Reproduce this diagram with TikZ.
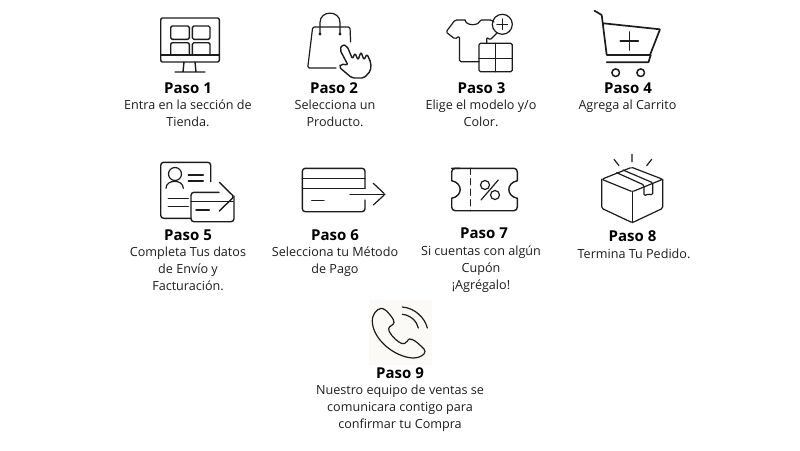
\documentclass[tikz,border=0pt]{standalone}
\usepackage{fontspec}
\setmainfont{Open Sans}
\usepackage{xcolor}
\definecolor{inkblack}{HTML}{1C1C1C}
\definecolor{phonecream}{HTML}{FBFAF6}
\begin{document}
\begin{tikzpicture}[
  x=1pt, y=-1pt,
  title/.style = {inner sep=0pt, text=black, font=\fontsize{15}{17}\selectfont\bfseries},
  desc/.style  = {inner sep=0pt, anchor=north, align=center, text=inkblack,
                  font=\fontsize{12.6}{17.4}\selectfont},
  icon/.style  = {draw=inkblack, line width=1.4pt, rounded corners=1.5pt, line cap=round, line join=round},
  thin icon/.style = {icon, line width=1.2pt},
]
\useasboundingbox (0,0) rectangle (800,450);

% Row 1: monitor
\draw[icon] (160.7,18) rectangle (219.3,62);
\draw[icon] (160.7,55) -- (219.3,55);
\draw[icon] (170.7,26) rectangle (189.3,39.3);
\draw[icon] (192.3,26) rectangle (210,39.3);
\draw[icon] (170.7,55) -- (170.7,42.7) -- (189.3,42.7) -- (189.3,55);
\draw[icon] (192.3,55) -- (192.3,42.7) -- (210,42.7) -- (210,55);
\draw[icon] (184,62) -- (183,72) (195,62) -- (196,72) (175,72) -- (205,72);

% Row 1: bag and hand
\draw[thin icon] (320,33) -- (320,24) .. controls (320,10) and (340,10) .. (340,24) -- (340,33);
\fill[inkblack] (320,34) circle (1.6) (340,34) circle (1.6);
\draw[thin icon] (350.6,42) -- (350,27) -- (312.7,27) -- (307.7,68) -- (336,68);
\draw[icon, rounded corners=2pt] (339,67) -- (341,64) -- (348,65) -- (340,50) -- (342,44.5) -- (347,46)
  -- (352.5,59) -- (355,53) -- (358,60) -- (361,52) -- (364,60) -- (367,54) -- (371,63)
  -- (370.5,71) -- (364,78) -- (352,78) -- cycle;

% Row 1: shirt
\draw[thin icon] (465,20) .. controls (466,26) and (478,26) .. (480,20) -- (492,20) -- (494,22);
\draw[thin icon] (465,20) -- (455,20) -- (446,32) -- (455,39) -- (459.5,36) -- (459.5,61.7) -- (479,61.7);
\draw[thin icon] (497,33) -- (490,40) -- (486.7,37) -- (486.7,43);
\draw[thin icon] (502.3,24.3) circle (10);
\draw[thin icon] (502.3,19) -- (502.3,29.6) (497,24.3) -- (507.6,24.3);
\draw[thin icon] (479,43.3) rectangle (512.3,71.7);
\draw[thin icon] (495.7,43.3) -- (495.7,71.7) (479,58.3) -- (512.3,58.3);

% Row 1: cart
\draw[icon, line width=1.7pt, rounded corners=0.5pt] (594.5,10.7) -- (601.7,15) -- (606.7,55) -- (650,55) -- (660,29.3) -- (603.3,23.3);
\draw[icon, line width=1.7pt, rounded corners=0.5pt] (606.7,62.3) -- (648.5,62.3) -- (650.7,55);
\draw[icon, line width=1.5pt] (615.7,72.7) circle (3.8) (640.7,72.7) circle (3.8);
\draw[icon, line width=1.6pt] (629.3,32) -- (629.3,50) (620.3,41) -- (638.3,41);

% Row 2: form and card
\draw[icon, rounded corners=3pt] (210.7,181.7) -- (210.7,162.3) -- (160.7,162.3) -- (160.7,218.3) -- (191,218.3);
\draw[thin icon] (175,174) circle (6.5);
\draw[thin icon] (166,188.3) .. controls (166,179) and (183.3,179) .. (183.3,188.3);
\draw[icon] (188.3,175) -- (203.3,175) (188.3,181) -- (203.3,181);
\draw[icon] (168.3,198.3) -- (188.3,198.3) (168.3,206.7) -- (188.3,206.7);
\draw[icon, rounded corners=3pt] (219,192.3) -- (191,192.3) -- (191,221.7) -- (234,221.7) -- (234,196);
\draw[icon] (191,201.7) -- (233,201.7) (196,210) -- (209.3,210);
\draw[icon] (219.3,182.3) -- (234,196.7) -- (219.3,211);

% Row 2: payment card
\draw[icon, rounded corners=3pt] (365,188.3) -- (365,168.3) -- (302.3,168.3) -- (302.3,211.7) -- (365,211.7) -- (365,200);
\draw[icon] (302.3,178.3) -- (365,178.3) (302.3,188.3) -- (365,188.3);
\draw[icon] (311.7,200.7) -- (324,200.7);
\draw[thin icon] (350,194.3) -- (385,194.3);
\draw[thin icon] (373.3,183.3) -- (385,194.3) -- (373.3,205);

% Row 2: ticket
\draw[icon, rounded corners=3.5pt] (451.7,168.3) -- (517.3,168.3) -- (517.3,180.7);
\draw[icon, rounded corners=3.5pt] (517.3,198.3) -- (517.3,210.7) -- (451.7,210.7) -- (451.7,198.3);
\draw[icon, rounded corners=3.5pt] (451.7,180.7) -- (451.7,168.3) -- (460,168.3);
\draw[icon] (517.3,180.7) .. controls (506,183) and (506,196) .. (517.3,198.3);
\draw[icon] (451.7,198.3) .. controls (463,196) and (463,183) .. (451.7,180.7);
\draw[icon, dash pattern=on 6pt off 4.5pt] (470.7,168.3) -- (470.7,210.7);
\draw[thin icon] (485,185) circle (4.5) (495,195) circle (4.5);
\draw[thin icon] (498.3,180) -- (481,200);

% Row 2: box
\draw[thin icon] (601.7,179.3) -- (631.7,167.3) -- (662.7,179.3) -- (632.3,191.7) -- cycle;
\draw[thin icon] (601.7,179.3) -- (601.7,208.3) -- (632.3,222.7) -- (662.7,208.3) -- (662.7,179.3);
\draw[thin icon] (632.3,191.7) -- (632.3,222.7);
\draw[thin icon] (616.7,172.7) -- (644,185) -- (644,196) -- (648,194) -- (652.7,195) -- (652.7,182.7) -- (623,170);
\draw[thin icon] (614,159.3) -- (619,165.7) (632,154.3) -- (632,161.7) (651.7,159.3) -- (646.7,165.7);

% Row 3: phone
\fill[phonecream] (369,300) rectangle (432,365);
\draw[thin icon] (372.5,318) .. controls (375,309) and (381,308) .. (384,309) .. controls (388,312) and (392,317) .. (394,321)
  .. controls (394,325) and (389,326) .. (388.5,330) .. controls (392,337) and (398,342) .. (403,344)
  .. controls (407,343) and (408,339) .. (411,339) .. controls (416,341) and (421,346) .. (425,350)
  .. controls (425,355) and (419,358) .. (412,358) .. controls (390,355) and (370,335) .. (372.5,318);
\draw[thin icon] (402.3,307) .. controls (415,308) and (425,318) .. (427.3,328);
\draw[thin icon] (402.3,314.3) .. controls (410,315) and (417,321) .. (418.3,328);

% Row 1: labels
\node[title] (paso1) at (188,88) {Paso 1};
\node[desc]  (text1) at (188,99.3) {Entra en la sección de\\Tienda.};
\node[title] (paso2) at (334,88) {Paso 2};
\node[desc]  (text2) at (335,99.3) {Selecciona un\\Producto.};
\node[title] (paso3) at (481.5,88) {Paso 3};
\node[desc]  (text3) at (481,99.3) {Elige el modelo y/o\\Color.};
\node[title] (paso4) at (628,88) {Paso 4};
\node[desc]  (text4) at (627.5,99.3) {Agrega al Carrito};

% Row 2: labels
\node[title] (paso5) at (188,235) {Paso 5};
\node[desc]  (text5) at (188,246.3) {Completa Tus datos\\de Envío y\\Facturación.};
\node[title] (paso6) at (335,235) {Paso 6};
\node[desc]  (text6) at (335,246.3) {Selecciona tu Método\\de Pago};
\node[title] (paso7) at (484,233) {Paso 7};
\node[desc]  (text7) at (481,245.3) {Si cuentas con algún\\Cupón\\¡Agrégalo!};
\node[title] (paso8) at (632.5,236) {Paso 8};
\node[desc]  (text8) at (634,248.3) {Termina Tu Pedido.};

% Row 3: labels
\node[title] (paso9) at (400,373) {Paso 9};
\node[desc]  (text9) at (400,384.3) {Nuestro equipo de ventas se\\comunicara contigo para\\confirmar tu Compra};

\end{tikzpicture}
\end{document}
